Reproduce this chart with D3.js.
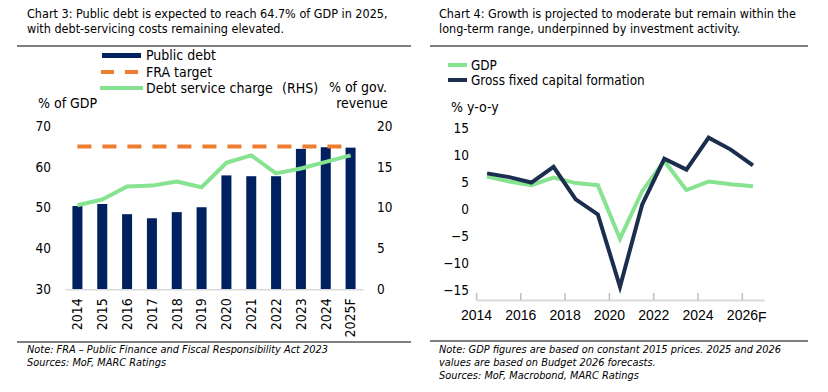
<!DOCTYPE html>
<html>
<head>
<meta charset="utf-8">
<script src="https://cdn.jsdelivr.net/npm/d3@7"></script>
<style>
  body { margin: 0; background: #fff; }
  svg { display: block; }
  .tah { font-family: 'DejaVu Sans Condensed', 'DejaVu Sans', sans-serif; font-stretch: condensed; fill: #000; }
  .note { font-style: italic; }
</style>
</head>
<body>
<svg id="chart" width="828" height="392"></svg>
<script>
// chart 3 data
var debtYears = ['2014', '2015', '2016', '2017', '2018', '2019', '2020', '2021', '2022', '2023', '2024', '2025F'];
var publicDebt = [50.4, 50.9, 48.4, 47.4, 48.9, 50.1, 57.9, 57.7, 57.7, 64.4, 64.8, 64.7];
var debtService = [10.3, 11.0, 12.6, 12.7, 13.2, 12.5, 15.5, 16.4, 14.2, 14.8, 15.6, 16.4];
var fraTarget = 65;
var leftTicks = [30, 40, 50, 60, 70];
var rightTicks = [0, 5, 10, 15, 20];

// chart 4 data
var growthYears = [2014, 2015, 2016, 2017, 2018, 2019, 2020, 2021, 2022, 2023, 2024, 2025, 2026];
var gdp = [6.0, 5.1, 4.4, 5.8, 4.8, 4.4, -5.5, 3.3, 8.9, 3.5, 5.1, 4.6, 4.2];
var gfcf = [6.6, 5.9, 4.9, 7.8, 1.8, -1.0, -14.4, 0.8, 9.3, 7.3, 13.2, 11.0, 8.1];
var growthTicks = [-15, -10, -5, 0, 5, 10, 15];
var yearTicks = [2014, 2016, 2018, 2020, 2022, 2024, 2026];

const navy = '#002060';
const green = '#86e38f';
const orange = '#ed7d31';
const darkLine = '#1c2e4e';
const axisGrey = '#d9d9d9';

const svg = d3.select('#chart');

// ---------- text blocks (titles, rules, notes) ----------
function textLines(x, ys, lines, size, cls) {
    lines.forEach((t, i) => {
        svg.append('text')
            .attr('class', 'tah ' + (cls || ''))
            .attr('x', x)
            .attr('y', ys[i])
            .attr('font-size', size)
            .text(t);
    });
}

textLines(27, [18, 33], [
    'Chart 3: Public debt is expected to reach 64.7% of GDP in 2025,',
    'with debt-servicing costs remaining elevated.'
], 12.5);
textLines(439, [18, 33], [
    'Chart 4: Growth is projected to moderate but remain within the',
    'long-term range, underpinned by investment activity.'
], 12.5);

textLines(27, [353, 366], [
    'Note: FRA \u2013 Public Finance and Fiscal Responsibility Act 2023',
    'Sources: MoF, MARC Ratings'
], 10.9, 'note');
textLines(439, [353, 366, 379], [
    'Note: GDP figures are based on constant 2015 prices. 2025 and 2026',
    'values are based on Budget 2026 forecasts.',
    'Sources: MoF, Macrobond, MARC Ratings'
], 10.9, 'note');

// horizontal rules
[[17, 411, 46], [430, 808, 46], [17, 411, 342], [430, 808, 341]].forEach(r => {
    svg.append('line')
        .attr('x1', r[0]).attr('x2', r[1])
        .attr('y1', r[2]).attr('y2', r[2])
        .attr('stroke', '#000')
        .attr('stroke-width', 1.2);
});

// ---------- chart 3: public debt ----------
const c3 = svg.append('g');

const x3 = d3.scaleBand()
    .domain(debtYears)
    .range([65, 363]);

const yLeft = d3.scaleLinear().domain([30, 70]).range([289.3, 126]);
const yRight = d3.scaleLinear().domain([0, 20]).range([289.3, 126]);
const barWidth = 10;

// bars
c3.selectAll('rect.bar')
    .data(publicDebt)
    .enter()
    .append('rect')
    .attr('class', 'bar')
    .attr('x', (d, i) => x3(debtYears[i]) + x3.bandwidth() / 2 - barWidth / 2)
    .attr('width', barWidth)
    .attr('y', d => yLeft(d))
    .attr('height', d => yLeft(30) - yLeft(d))
    .attr('fill', navy);

// FRA target line, from first to last bar centre
c3.append('line')
    .attr('x1', x3(debtYears[0]) + x3.bandwidth() / 2)
    .attr('x2', x3(debtYears[debtYears.length - 1]) + x3.bandwidth() / 2)
    .attr('y1', yLeft(fraTarget))
    .attr('y2', yLeft(fraTarget))
    .attr('stroke', orange)
    .attr('stroke-width', 4)
    .attr('stroke-dasharray', '14,11');

// debt service charge (RHS)
const line3 = d3.line()
    .x((d, i) => x3(debtYears[i]) + x3.bandwidth() / 2)
    .y(d => yRight(d));

c3.append('path')
    .datum(debtService)
    .attr('d', line3)
    .attr('fill', 'none')
    .attr('stroke', green)
    .attr('stroke-width', 4)
    .attr('stroke-linejoin', 'round');

// x axis
const xAxis3 = c3.append('g')
    .attr('transform', `translate(0, ${yLeft(30)})`)
    .call(d3.axisBottom(x3).tickSize(0).tickPadding(0));
xAxis3.select('.domain').attr('stroke', axisGrey).attr('stroke-width', 1.5);
xAxis3.selectAll('text')
    .attr('class', 'tah')
    .attr('font-size', 14)
    .attr('font-family', null)
    .attr('transform', 'rotate(-90)')
    .attr('text-anchor', 'end')
    .attr('x', -9)
    .attr('y', 0)
    .attr('dy', '0.35em');

// y axes
const yAxisL = c3.append('g')
    .attr('transform', 'translate(51, 0)')
    .call(d3.axisLeft(yLeft).tickValues(leftTicks).tickSize(0).tickPadding(0));
yAxisL.select('.domain').remove();
yAxisL.selectAll('text').attr('class', 'tah').attr('font-size', 13.5).attr('font-family', null);

const yAxisR = c3.append('g')
    .attr('transform', 'translate(377, 0)')
    .call(d3.axisRight(yRight).tickValues(rightTicks).tickSize(0).tickPadding(0));
yAxisR.select('.domain').remove();
yAxisR.selectAll('text').attr('class', 'tah').attr('font-size', 13.5).attr('font-family', null);

// axis titles
textLines(38, [108], ['% of GDP'], 14);
svg.append('text').attr('class', 'tah').attr('font-size', 14)
    .attr('x', 358).attr('y', 92).attr('text-anchor', 'middle').text('% of gov.');
svg.append('text').attr('class', 'tah').attr('font-size', 14)
    .attr('x', 362).attr('y', 108).attr('text-anchor', 'middle').text('revenue');

// legend
const leg3 = svg.append('g');
leg3.append('rect').attr('x', 102).attr('y', 53).attr('width', 39).attr('height', 5).attr('fill', navy);
leg3.append('line').attr('x1', 101).attr('x2', 141).attr('y1', 72).attr('y2', 72)
    .attr('stroke', orange).attr('stroke-width', 4).attr('stroke-dasharray', '13,11');
leg3.append('line').attr('x1', 100).attr('x2', 143).attr('y1', 88).attr('y2', 88)
    .attr('stroke', green).attr('stroke-width', 4);
['Public debt', 'FRA target', 'Debt service charge'].forEach((t, i) => {
    leg3.append('text').attr('class', 'tah').attr('font-size', 14)
        .attr('x', 146).attr('y', 60 + i * 16.5).text(t);
});
// RHS marker sits apart, as in the source legend
leg3.select('text:last-of-type')
    .append('tspan').attr('x', 282).text('(RHS)');

// ---------- chart 4: growth ----------
const c4 = svg.append('g');

const x4 = d3.scaleLinear().domain([2014, 2027]).range([476, 764]);
const y4 = d3.scaleLinear().domain([-15, 15]).range([290, 128]);

const line4 = d3.line()
    .x((d, i) => x4(growthYears[i] + 0.5))
    .y(d => y4(d));

c4.append('path')
    .datum(gdp)
    .attr('d', line4)
    .attr('fill', 'none')
    .attr('stroke', green)
    .attr('stroke-width', 4);

c4.append('path')
    .datum(gfcf)
    .attr('d', line4)
    .attr('fill', 'none')
    .attr('stroke', darkLine)
    .attr('stroke-width', 4);

// x axis with ticks pointing up
const xAxis4 = c4.append('g')
    .attr('transform', 'translate(0, 300)')
    .call(d3.axisBottom(x4).tickValues(yearTicks).tickFormat(d3.format('d'))
        .tickSizeInner(-7).tickSizeOuter(0).tickPadding(10));
xAxis4.select('.domain').attr('stroke', axisGrey).attr('stroke-width', 2);
xAxis4.selectAll('.tick line').attr('stroke', '#bfbfbf').attr('stroke-width', 1.5);
xAxis4.selectAll('text')
    .attr('font-family', 'Liberation Sans, Arial, sans-serif')
    .attr('font-size', 14)
    .attr('fill', '#000');
// forecast marker on last label
xAxis4.selectAll('.tick').filter(d => d === 2026).select('text')
    .append('tspan').attr('dy', '0.15em').attr('font-size', 14).text('F');
xAxis4.selectAll('.tick').filter(d => d === 2026).select('text')
    .attr('text-anchor', 'start').attr('x', -15.5);

const yAxis4 = c4.append('g')
    .attr('transform', 'translate(469, 0)')
    .call(d3.axisLeft(y4).tickValues(growthTicks).tickSize(0).tickPadding(0));
yAxis4.select('.domain').remove();
yAxis4.selectAll('text').attr('class', 'tah').attr('font-size', 13.5).attr('font-family', null);

textLines(451, [112], ['% y-o-y'], 14);

// legend
const leg4 = svg.append('g');
[[green, 'GDP'], [darkLine, 'Gross fixed capital formation']].forEach((s, i) => {
    leg4.append('line').attr('x1', 448).attr('x2', 467)
        .attr('y1', 65 + i * 15).attr('y2', 65 + i * 15)
        .attr('stroke', s[0]).attr('stroke-width', 4);
    leg4.append('text').attr('class', 'tah').attr('font-size', 13.4)
        .attr('x', 471).attr('y', 70 + i * 15).text(s[1]);
});
</script>
</body>
</html>
